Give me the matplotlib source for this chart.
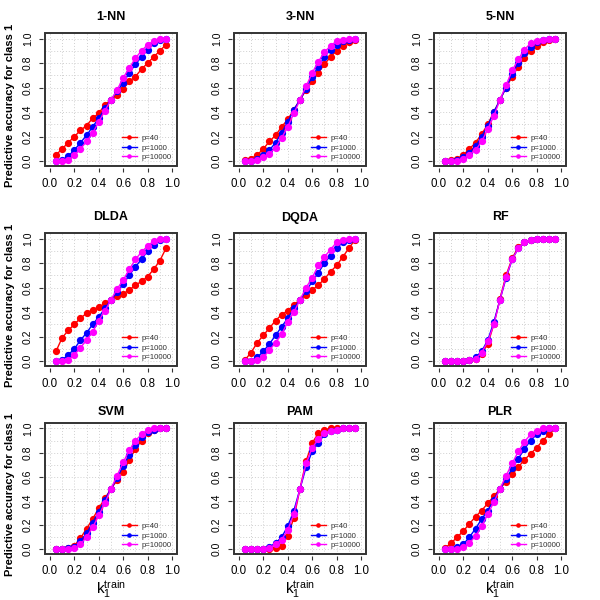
import matplotlib
matplotlib.use('Agg')
import matplotlib.pyplot as plt
from matplotlib.patches import Rectangle
import numpy as np

plt.rcParams['font.family'] = ['Liberation Sans', 'DejaVu Sans']

# training proportion of class 1
k_train = [0.05, 0.10, 0.15, 0.20, 0.25, 0.30, 0.35, 0.40, 0.45, 0.50,
           0.55, 0.60, 0.65, 0.70, 0.75, 0.80, 0.85, 0.90, 0.95]

series_labels = ['p=40', 'p=1000', 'p=10000']
series_colors = ['#FF0000', '#0000FF', '#FF00FF']

titles = ['1-NN', '3-NN', '5-NN', 'DLDA', 'DQDA', 'RF', 'SVM', 'PAM', 'PLR']

nn1_p40 = [0.05, 0.10, 0.15, 0.20, 0.25, 0.29, 0.35, 0.39, 0.46, 0.50, 0.54, 0.59, 0.65, 0.69, 0.75, 0.80, 0.85, 0.90, 0.95]
nn1_p1000 = [0.00, 0.01, 0.04, 0.09, 0.15, 0.21, 0.28, 0.35, 0.43, 0.50, 0.57, 0.64, 0.72, 0.79, 0.85, 0.91, 0.96, 0.99, 1.00]
nn1_p10000 = [0.00, 0.00, 0.01, 0.05, 0.10, 0.16, 0.23, 0.32, 0.41, 0.50, 0.58, 0.68, 0.76, 0.84, 0.90, 0.95, 0.98, 1.00, 1.00]

nn3_p40 = [0.01, 0.02, 0.05, 0.10, 0.16, 0.21, 0.28, 0.34, 0.42, 0.50, 0.58, 0.65, 0.72, 0.79, 0.85, 0.90, 0.94, 0.97, 0.99]
nn3_p1000 = [0.00, 0.00, 0.02, 0.05, 0.09, 0.15, 0.23, 0.32, 0.42, 0.50, 0.59, 0.69, 0.77, 0.85, 0.91, 0.95, 0.98, 0.99, 1.00]
nn3_p10000 = [0.00, 0.00, 0.01, 0.03, 0.06, 0.11, 0.19, 0.28, 0.39, 0.50, 0.61, 0.72, 0.81, 0.89, 0.94, 0.98, 0.99, 1.00, 1.00]

nn5_p40 = [0.00, 0.01, 0.02, 0.05, 0.10, 0.15, 0.22, 0.30, 0.40, 0.50, 0.60, 0.69, 0.77, 0.84, 0.90, 0.94, 0.97, 0.99, 1.00]
nn5_p1000 = [0.00, 0.00, 0.01, 0.03, 0.07, 0.12, 0.20, 0.29, 0.40, 0.50, 0.60, 0.71, 0.80, 0.88, 0.93, 0.97, 0.99, 1.00, 1.00]
nn5_p10000 = [0.00, 0.00, 0.00, 0.02, 0.05, 0.09, 0.16, 0.26, 0.37, 0.50, 0.62, 0.74, 0.83, 0.91, 0.96, 0.98, 0.99, 1.00, 1.00]

dlda_p40 = [0.08, 0.19, 0.25, 0.30, 0.35, 0.39, 0.42, 0.44, 0.47, 0.50, 0.53, 0.55, 0.58, 0.62, 0.65, 0.69, 0.75, 0.82, 0.92]
dlda_p1000 = [0.00, 0.01, 0.05, 0.10, 0.17, 0.23, 0.30, 0.36, 0.43, 0.50, 0.56, 0.63, 0.70, 0.77, 0.83, 0.90, 0.95, 0.99, 1.00]
dlda_p10000 = [0.00, 0.00, 0.01, 0.05, 0.11, 0.17, 0.24, 0.33, 0.41, 0.50, 0.59, 0.66, 0.75, 0.83, 0.89, 0.94, 0.98, 1.00, 1.00]

dqda_p40 = [0.01, 0.07, 0.15, 0.21, 0.27, 0.33, 0.38, 0.41, 0.46, 0.50, 0.54, 0.58, 0.62, 0.67, 0.73, 0.78, 0.85, 0.92, 0.99]
dqda_p1000 = [0.00, 0.00, 0.03, 0.08, 0.14, 0.21, 0.28, 0.35, 0.43, 0.50, 0.57, 0.65, 0.72, 0.80, 0.86, 0.92, 0.97, 0.99, 1.00]
dqda_p10000 = [0.00, 0.00, 0.01, 0.03, 0.09, 0.15, 0.22, 0.32, 0.40, 0.50, 0.60, 0.68, 0.78, 0.85, 0.91, 0.97, 0.99, 1.00, 1.00]

rf_p40 = [0.00, 0.00, 0.00, 0.00, 0.01, 0.02, 0.06, 0.14, 0.30, 0.51, 0.70, 0.84, 0.93, 0.97, 0.99, 1.00, 1.00, 1.00, 1.00]
rf_p1000 = [0.00, 0.00, 0.00, 0.00, 0.01, 0.03, 0.08, 0.17, 0.32, 0.50, 0.68, 0.83, 0.92, 0.97, 0.99, 1.00, 1.00, 1.00, 1.00]
rf_p10000 = [0.00, 0.00, 0.00, 0.00, 0.01, 0.02, 0.07, 0.16, 0.30, 0.50, 0.69, 0.83, 0.92, 0.97, 0.99, 1.00, 1.00, 1.00, 1.00]

svm_p40 = [0.00, 0.00, 0.01, 0.03, 0.09, 0.17, 0.25, 0.34, 0.42, 0.50, 0.57, 0.64, 0.74, 0.83, 0.90, 0.96, 0.99, 1.00, 1.00]
svm_p1000 = [0.00, 0.00, 0.01, 0.02, 0.07, 0.13, 0.22, 0.31, 0.41, 0.50, 0.59, 0.69, 0.78, 0.86, 0.93, 0.97, 0.99, 1.00, 1.00]
svm_p10000 = [0.00, 0.00, 0.00, 0.01, 0.04, 0.10, 0.18, 0.28, 0.38, 0.50, 0.61, 0.72, 0.82, 0.90, 0.95, 0.99, 1.00, 1.00, 1.00]

pam_p40 = [0.00, 0.00, 0.00, 0.00, 0.00, 0.01, 0.03, 0.11, 0.26, 0.50, 0.73, 0.88, 0.96, 0.99, 1.00, 1.00, 1.00, 1.00, 1.00]
pam_p1000 = [0.00, 0.00, 0.00, 0.00, 0.02, 0.05, 0.10, 0.19, 0.32, 0.50, 0.68, 0.81, 0.88, 0.95, 0.98, 0.99, 1.00, 1.00, 1.00]
pam_p10000 = [0.00, 0.00, 0.00, 0.00, 0.01, 0.04, 0.08, 0.16, 0.29, 0.50, 0.71, 0.84, 0.91, 0.96, 0.98, 0.99, 1.00, 1.00, 1.00]

plr_p40 = [0.01, 0.05, 0.10, 0.15, 0.21, 0.27, 0.32, 0.38, 0.44, 0.50, 0.56, 0.62, 0.68, 0.74, 0.79, 0.84, 0.90, 0.95, 1.00]
plr_p1000 = [0.00, 0.00, 0.02, 0.04, 0.10, 0.17, 0.25, 0.32, 0.41, 0.50, 0.58, 0.67, 0.75, 0.83, 0.90, 0.95, 0.98, 1.00, 1.00]
plr_p10000 = [0.00, 0.00, 0.00, 0.02, 0.05, 0.11, 0.19, 0.29, 0.39, 0.50, 0.61, 0.71, 0.81, 0.89, 0.95, 0.98, 1.00, 1.00, 1.00]

panels = [
    [nn1_p40, nn1_p1000, nn1_p10000],
    [nn3_p40, nn3_p1000, nn3_p10000],
    [nn5_p40, nn5_p1000, nn5_p10000],
    [dlda_p40, dlda_p1000, dlda_p10000],
    [dqda_p40, dqda_p1000, dqda_p10000],
    [rf_p40, rf_p1000, rf_p10000],
    [svm_p40, svm_p1000, svm_p10000],
    [pam_p40, pam_p1000, pam_p10000],
    [plr_p40, plr_p1000, plr_p10000],
]

W, H = 600, 600
fig = plt.figure(figsize=(6, 6), dpi=100)

# panel boxes in pixels: left edges, top edges, sizes
col_left = [45, 234, 434]
row_top = [33, 233, 423]
row_h = [133, 133, 131]
box_w = 132
title_pad = [9, 9, 5.5]

ticks = [0.0, 0.2, 0.4, 0.6, 0.8, 1.0]
tick_labels = ['0.0', '0.2', '0.4', '0.6', '0.8', '1.0']

for i, (title, series) in enumerate(zip(titles, panels)):
    r, c = divmod(i, 3)
    bh = row_h[r]
    ax = fig.add_axes([col_left[c] / W, 1 - (row_top[r] + bh) / H, box_w / W, bh / H])
    ax.set_xlim(-0.04, 1.04)
    ax.set_ylim(-0.04, 1.045)

    # light dotted grid every 0.1
    for g in np.arange(0, 1.01, 0.1):
        ax.axvline(g, color='#d0d0d0', lw=0.7, ls=(0, (1, 2)), zorder=0)
        ax.axhline(g, color='#d0d0d0', lw=0.7, ls=(0, (1, 2)), zorder=0)

    for vals, lab, col in zip(series, series_labels, series_colors):
        ax.plot(k_train, vals, color=col, lw=1.0, marker='o', ms=4.2,
                mec=col, mfc=col, label=lab, zorder=3)

    # R-style box plus detached axes
    for s in ax.spines.values():
        s.set_visible(False)
    ax.add_patch(Rectangle((0, 0), 1, 1, transform=ax.transAxes, fill=False,
                           ec='#333333', lw=1.4, zorder=5, clip_on=False))
    ax.spines['bottom'].set_position(('outward', 1.5))
    ax.spines['left'].set_position(('outward', 1.5))
    ax.set_xticks(ticks)
    ax.set_xticklabels(tick_labels)
    ax.set_yticks(ticks)
    ax.set_yticklabels(tick_labels, rotation=90, va='center')
    ax.tick_params(direction='out', length=3.2, width=0.8, color='#333333', pad=4)
    ax.tick_params(axis='x', labelsize=8.3, pad=3.5 if r == 2 else 4)
    ax.tick_params(axis='y', labelsize=7.5)

    ax.set_title(title, fontsize=9, fontweight='bold', pad=title_pad[r])

    ax.legend(loc='lower right', frameon=False, fontsize=5.6, handlelength=2.0,
              labelspacing=0.25, handletextpad=0.6, borderaxespad=0.25,
              markerscale=0.55, labelcolor='#333333')

    if c == 0:
        cy = 1 - (row_top[r] + bh / 2 + 6) / H
        fig.text(10 / W, cy, 'Predictive accuracy for class 1', rotation=90,
                 ha='center', va='center', fontsize=8, fontweight='bold')
    if r == 2:
        cx = (col_left[c] + box_w / 2) / W
        fig.text(cx, 0.0, r'$\mathregular{k_1^{train}}$',
                 ha='center', va='bottom', fontsize=11)

fig.savefig('out.png', dpi=100)
